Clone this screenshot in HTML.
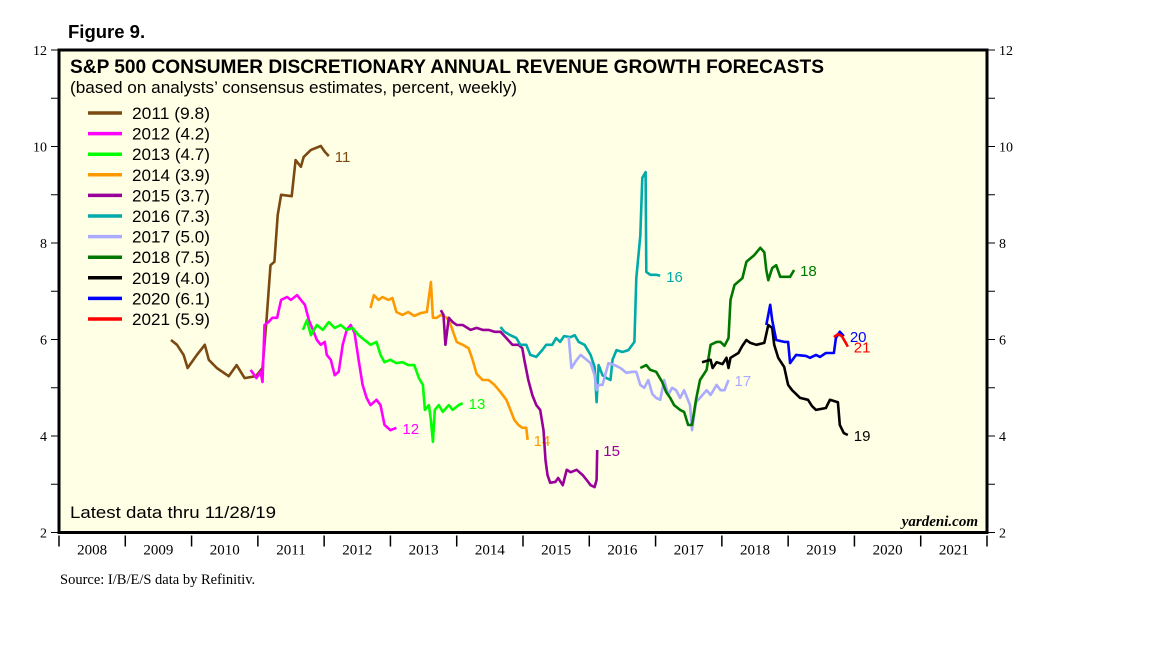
<!DOCTYPE html>
<html><head><meta charset="utf-8"><style>
body{margin:0;background:#fff;width:1152px;height:648px;overflow:hidden}
svg text{font-family:"Liberation Sans",sans-serif}
</style></head><body>
<svg width="1152" height="648" id="svg">
<text x="68" y="38" font-size="18.5" font-weight="bold">Figure 9.</text>
<rect x="59" y="50" width="928" height="482.5" fill="#FFFFE5"/>
<g id="axes"></g>
<g id="series"></g>
<rect x="59" y="50" width="928" height="482.5" fill="none" stroke="#000" stroke-width="3"/>
<text x="70" y="73" font-size="19" font-weight="bold" textLength="754" lengthAdjust="spacingAndGlyphs">S&amp;P 500 CONSUMER DISCRETIONARY ANNUAL REVENUE GROWTH FORECASTS</text>
<text x="70" y="93" font-size="16.5" textLength="447" lengthAdjust="spacingAndGlyphs">(based on analysts’ consensus estimates, percent, weekly)</text>
<g id="legend"></g>
<text x="70" y="518" font-size="17" textLength="206" lengthAdjust="spacingAndGlyphs">Latest data thru 11/28/19</text>
<text x="978" y="526" font-size="15" font-style="italic" font-weight="bold" text-anchor="end" style="font-family:'Liberation Serif',serif">yardeni.com</text>
<text x="60" y="584" font-size="14.5" style="font-family:'Liberation Serif',serif">Source: I/B/E/S data by Refinitiv.</text>
</svg>
<script>
const yTicks=[2,4,6,8,10,12];
const years=[2008,2009,2010,2011,2012,2013,2014,2015,2016,2017,2018,2019,2020,2021];
const names=["2011","2012","2013","2014","2015","2016","2017","2018","2019","2020","2021"];
const latest=["9.8","4.2","4.7","3.9","3.7","7.3","5.0","7.5","4.0","6.1","5.9"];
const colors=["#7B4A12","#FF00FF","#00FF00","#FF9900","#990099","#00AAAA","#AAAAFF","#007700","#000000","#0000FF","#FF0000"];
const s2011=[[2009.69,5.99],[2009.78,5.89],[2009.88,5.68],[2009.94,5.41],[2010.08,5.68],[2010.20,5.89],[2010.26,5.58],[2010.38,5.41],[2010.56,5.24],[2010.68,5.47],[2010.80,5.20],[2010.97,5.24],[2011.07,5.41],[2011.13,6.40],[2011.19,7.54],[2011.25,7.61],[2011.30,8.58],[2011.35,9.0],[2011.51,8.97],[2011.57,9.72],[2011.65,9.58],[2011.69,9.78],[2011.80,9.93],[2011.95,10.01],[2012.01,9.89],[2012.07,9.80]];
const s2012=[[2010.89,5.37],[2010.98,5.20],[2011.04,5.33],[2011.07,5.12],[2011.10,6.30],[2011.16,6.36],[2011.22,6.45],[2011.29,6.45],[2011.35,6.82],[2011.44,6.88],[2011.50,6.82],[2011.59,6.92],[2011.65,6.82],[2011.71,6.72],[2011.77,6.40],[2011.83,6.20],[2011.89,5.99],[2011.95,5.89],[2012.01,5.95],[2012.04,5.68],[2012.10,5.58],[2012.16,5.26],[2012.22,5.33],[2012.28,5.89],[2012.34,6.20],[2012.40,6.30],[2012.46,6.13],[2012.52,5.58],[2012.58,5.06],[2012.64,4.79],[2012.70,4.64],[2012.79,4.75],[2012.85,4.64],[2012.91,4.23],[2013.00,4.12],[2013.09,4.17]];
const s2013=[[2011.68,6.20],[2011.74,6.40],[2011.80,6.09],[2011.89,6.30],[2011.98,6.20],[2012.07,6.36],[2012.16,6.24],[2012.25,6.30],[2012.34,6.20],[2012.43,6.24],[2012.52,6.09],[2012.61,5.99],[2012.70,5.89],[2012.79,5.95],[2012.85,5.68],[2012.91,5.53],[2013.00,5.58],[2013.09,5.51],[2013.18,5.53],[2013.27,5.47],[2013.36,5.47],[2013.43,5.20],[2013.49,5.06],[2013.52,4.54],[2013.58,4.64],[2013.61,4.33],[2013.64,3.88],[2013.67,4.54],[2013.73,4.64],[2013.79,4.50],[2013.88,4.64],[2013.94,4.54],[2014.03,4.64],[2014.09,4.68]];
const s2014=[[2012.70,6.65],[2012.75,6.92],[2012.82,6.82],[2012.88,6.88],[2012.97,6.82],[2013.03,6.86],[2013.09,6.57],[2013.18,6.51],[2013.27,6.57],[2013.36,6.49],[2013.46,6.55],[2013.55,6.57],[2013.61,7.19],[2013.64,6.45],[2013.70,6.45],[2013.76,6.51],[2013.85,6.45],[2013.91,6.30],[2014.00,5.95],[2014.09,5.89],[2014.18,5.82],[2014.24,5.58],[2014.30,5.29],[2014.39,5.16],[2014.48,5.16],[2014.57,5.06],[2014.66,4.91],[2014.75,4.75],[2014.81,4.54],[2014.87,4.33],[2014.93,4.23],[2014.99,4.17],[2015.05,4.17],[2015.07,3.92]];
const s2015=[[2013.76,6.61],[2013.80,6.51],[2013.83,5.89],[2013.88,6.45],[2013.94,6.36],[2014.00,6.30],[2014.09,6.30],[2014.21,6.20],[2014.30,6.24],[2014.39,6.20],[2014.48,6.20],[2014.57,6.16],[2014.66,6.16],[2014.75,6.03],[2014.84,5.89],[2014.93,5.89],[2014.99,5.82],[2015.02,5.58],[2015.08,5.16],[2015.14,4.85],[2015.20,4.64],[2015.26,4.54],[2015.31,4.12],[2015.34,3.50],[2015.37,3.19],[2015.41,3.03],[2015.49,3.05],[2015.53,3.13],[2015.60,2.98],[2015.66,3.30],[2015.72,3.25],[2015.81,3.30],[2015.90,3.19],[2015.96,3.09],[2016.02,2.98],[2016.08,2.94],[2016.11,3.09],[2016.12,3.71]];
const s2016=[[2014.66,6.26],[2014.72,6.16],[2014.81,6.09],[2014.90,6.03],[2014.96,5.89],[2015.05,5.89],[2015.11,5.68],[2015.20,5.64],[2015.29,5.78],[2015.35,5.89],[2015.44,5.89],[2015.50,6.03],[2015.56,5.95],[2015.62,6.07],[2015.72,6.05],[2015.78,6.09],[2015.84,5.95],[2015.93,5.89],[2016.02,5.68],[2016.08,5.43],[2016.11,4.70],[2016.14,5.47],[2016.20,5.26],[2016.26,5.20],[2016.32,5.16],[2016.35,5.58],[2016.41,5.78],[2016.50,5.74],[2016.59,5.78],[2016.68,5.95],[2016.71,7.27],[2016.77,8.15],[2016.80,9.35],[2016.85,9.47],[2016.86,7.40],[2016.92,7.34],[2017.01,7.34],[2017.07,7.32]];
const s2017=[[2015.69,6.05],[2015.73,5.41],[2015.81,5.58],[2015.87,5.68],[2015.96,5.58],[2016.02,5.51],[2016.08,5.26],[2016.11,4.95],[2016.14,5.06],[2016.20,5.06],[2016.29,5.51],[2016.38,5.47],[2016.47,5.41],[2016.56,5.31],[2016.65,5.33],[2016.71,5.33],[2016.77,5.06],[2016.83,5.00],[2016.89,5.16],[2016.95,4.87],[2017.01,4.79],[2017.07,4.75],[2017.13,5.16],[2017.19,4.85],[2017.25,5.00],[2017.31,4.95],[2017.37,4.79],[2017.43,4.95],[2017.52,4.64],[2017.55,4.12],[2017.61,4.70],[2017.67,4.79],[2017.77,4.95],[2017.83,4.85],[2017.92,5.06],[2017.98,4.95],[2018.04,4.95],[2018.10,5.16]];
const s2018=[[2016.77,5.41],[2016.86,5.47],[2016.92,5.37],[2017.01,5.33],[2017.10,5.12],[2017.16,4.91],[2017.22,4.79],[2017.28,4.64],[2017.37,4.54],[2017.43,4.50],[2017.49,4.23],[2017.55,4.23],[2017.61,4.75],[2017.67,5.16],[2017.77,5.37],[2017.83,5.89],[2017.92,5.95],[2017.98,5.95],[2018.04,5.87],[2018.10,6.03],[2018.13,6.82],[2018.19,7.13],[2018.31,7.27],[2018.37,7.61],[2018.49,7.75],[2018.58,7.90],[2018.64,7.81],[2018.67,7.44],[2018.70,7.23],[2018.76,7.48],[2018.82,7.54],[2018.88,7.30],[2019.03,7.30],[2019.09,7.44]];
const s2019=[[2017.70,5.53],[2017.83,5.58],[2017.86,5.41],[2017.92,5.53],[2018.01,5.49],[2018.07,5.62],[2018.10,5.41],[2018.13,5.62],[2018.25,5.72],[2018.31,5.87],[2018.37,5.99],[2018.43,5.93],[2018.52,5.89],[2018.64,5.93],[2018.70,6.30],[2018.76,6.24],[2018.79,5.89],[2018.85,5.62],[2018.94,5.43],[2019.00,5.06],[2019.06,4.95],[2019.18,4.79],[2019.30,4.75],[2019.36,4.62],[2019.42,4.54],[2019.57,4.58],[2019.63,4.75],[2019.75,4.70],[2019.78,4.23],[2019.84,4.06],[2019.90,4.02]];
const s2020=[[2018.67,6.30],[2018.73,6.72],[2018.76,6.40],[2018.82,5.99],[2018.94,5.95],[2019.00,5.95],[2019.03,5.51],[2019.12,5.68],[2019.27,5.66],[2019.33,5.62],[2019.42,5.68],[2019.48,5.64],[2019.57,5.72],[2019.69,5.72],[2019.72,6.03],[2019.78,6.16],[2019.84,6.07]];
const s2021=[[2019.69,6.05],[2019.75,6.11],[2019.81,6.07],[2019.87,5.93],[2019.90,5.85]];
const seriesData=[s2011,s2012,s2013,s2014,s2015,s2016,s2017,s2018,s2019,s2020,s2021];
const endLabels=["11","12","13","14","15","16","17","18","19","20","21"];

const NS="http://www.w3.org/2000/svg";
const X0=59,X1=987,Y0=532.5,Y1=50;
const xs=t=>X0+(t-2008)*(X1-X0)/14;
const ys=v=>Y0-(v-2)*(Y0-Y1)/10;
function mk(tag,attrs,parent){const e=document.createElementNS(NS,tag);for(const k in attrs)e.setAttribute(k,attrs[k]);parent.appendChild(e);return e;}
const axes=document.getElementById('axes');
for(let v=2;v<=12;v++){
  const a=mk('line',{x1:X0-8,x2:X0,y1:ys(v),y2:ys(v),stroke:'#000','stroke-width':1},axes);
  
  
  const b=mk('line',{x1:X1,x2:X1+8,y1:ys(v),y2:ys(v),stroke:'#000','stroke-width':1},axes);
  
  
}
yTicks.forEach(v=>{
  const l=mk('text',{x:X0-12,y:ys(v)+5,'text-anchor':'end','font-size':14,style:"font-family:'Liberation Serif',serif"},axes);
  l.textContent=v;
  
  
  const r=mk('text',{x:X1+12,y:ys(v)+5,'font-size':14,style:"font-family:'Liberation Serif',serif"},axes);
  r.textContent=v;
  
  
});
for(let i=0;i<=years.length;i++){
  const t=mk('line',{x1:xs(2008+i),x2:xs(2008+i),y1:Y0+3,y2:Y0+14,stroke:'#000','stroke-width':1.5},axes);
  
  
}
years.forEach(y=>{
  const l=mk('text',{x:xs(y+0.5),y:Y0+22,'text-anchor':'middle','font-size':15,style:"font-family:'Liberation Serif',serif"},axes);
  l.textContent=y;
  
  
});
const sg=document.getElementById('series');
seriesData.forEach((d,i)=>{
  const p=mk('polyline',{points:d.map(q=>xs(q[0]).toFixed(1)+','+ys(q[1]).toFixed(1)).join(' '),fill:'none',stroke:colors[i],'stroke-width':2.6,'stroke-linejoin':'round'},sg);
  
  
  const last=d[d.length-1];
  const t=mk('text',{x:xs(last[0])+6,y:ys(last[1])+6,'font-size':15,fill:colors[i]},sg);
  t.textContent=endLabels[i];
  
  
});
const lg=document.getElementById('legend');
names.forEach((n,i)=>{
  const y=113+i*20.6;
  const l=mk('line',{x1:88,x2:122,y1:y,y2:y,stroke:colors[i],'stroke-width':3.5},lg);
  
  
  const t=mk('text',{x:132,y:y+6,'font-size':17,textLength:78,lengthAdjust:'spacingAndGlyphs'},lg);
  t.textContent=n+' ('+latest[i]+')';
  
  
});
</script>
</body></html>
